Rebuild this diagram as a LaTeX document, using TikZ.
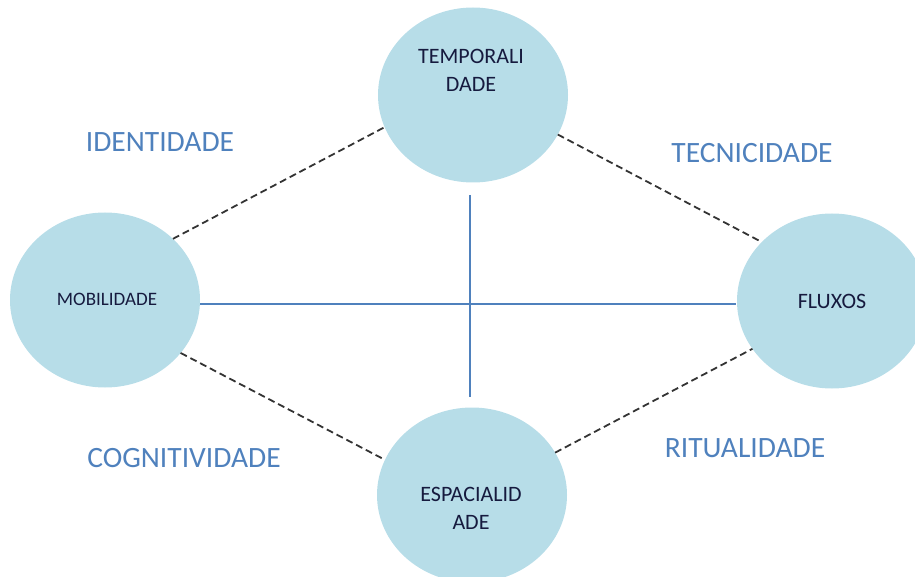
\documentclass[tikz,border=0pt]{standalone}
\usepackage{fontspec}
\setmainfont{Carlito}
\usetikzlibrary{shapes.geometric}
\definecolor{bubblefill}{RGB}{183,221,232}
\definecolor{axisblue}{RGB}{79,129,189}
\definecolor{labelblue}{RGB}{79,129,189}
\definecolor{inkblue}{RGB}{22,26,62}
\tikzset{
  bubble/.style={ellipse,fill=bubblefill,minimum width=190pt,minimum height=175pt},
  bubbletext/.style={font=\fontsize{22}{28}\selectfont,text=inkblue,align=center},
  axislabel/.style={font=\fontsize{29.5}{34}\selectfont,text=labelblue,anchor=base},
  dashlink/.style={draw=black!80,line width=1.8pt,dash pattern=on 7pt off 4pt},
  axisline/.style={draw=axisblue,line width=1.3pt}
}
\begin{document}
\begin{tikzpicture}[x=1pt,y=1pt,yscale=-1,inner sep=0pt,outer sep=0pt]
  \useasboundingbox (0,0) rectangle (915,577);
  \clip (0,0) rectangle (915,577);
  % circles
  \node[bubble] (temp) at (473,95) {};
  \node[bubble] (mob) at (105,300) {};
  \node[bubble] (flux) at (832,301) {};
  \node[bubble] (esp) at (472,495) {};
  % texts in the circles
  \node[bubbletext] (temptxt) at (471,70) {TEMPORALI\\DADE};
  \node[bubbletext,font=\fontsize{19}{28}\selectfont] (mobtxt) at (107,299) {MOBILIDADE};
  \node[bubbletext] (fluxtxt) at (832,301) {FLUXOS};
  \node[bubbletext] (esptxt) at (471,508) {ESPACIALID\\ADE};
  % cross
  \coordinate (hl) at (200,304);
  \coordinate (hr) at (736,304);
  \coordinate (vt) at (470,195);
  \coordinate (vb) at (470,397);
  \draw[axisline] (hl) -- (hr);
  \draw[axisline] (vt) -- (vb);
  % dashed links
  \draw[dashlink] (mob.42) -- (temp.200);
  \draw[dashlink] (temp.335) -- (flux.140);
  \draw[dashlink] (mob.325) -- (esp.158);
  \draw[dashlink] (esp.27) -- (flux.211);
  % labels
  \node[axislabel] (ident) at (160,152) {IDENTIDADE};
  \node[axislabel] (tecn) at (752,163) {TECNICIDADE};
  \node[axislabel] (cogn) at (184,467) {COGNITIVIDADE};
  \node[axislabel] (ritu) at (745,457) {RITUALIDADE};
\end{tikzpicture}
\end{document}
